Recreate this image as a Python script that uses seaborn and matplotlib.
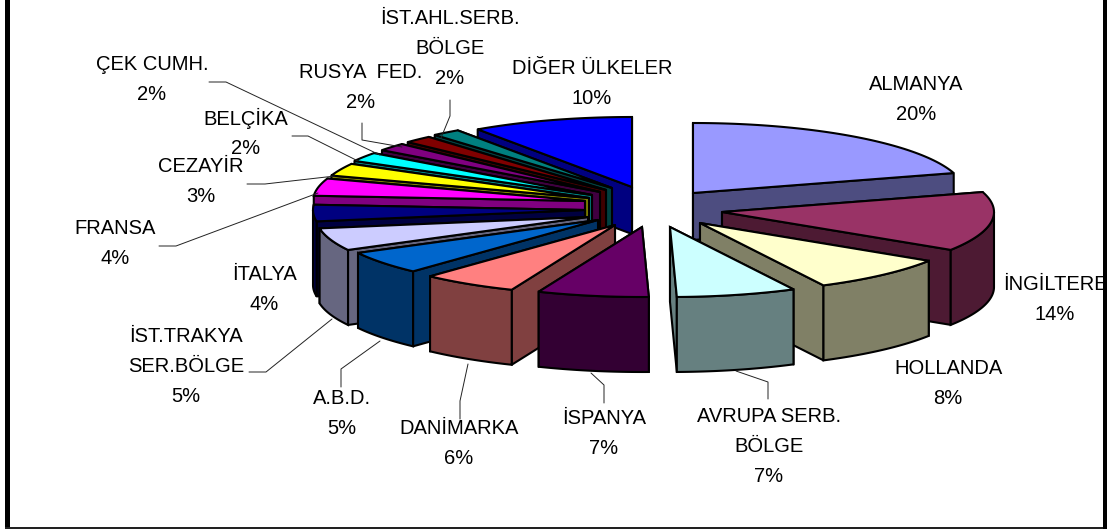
import numpy as np
import pandas as pd
import matplotlib
matplotlib.use("Agg")
import matplotlib.pyplot as plt
from matplotlib.patches import Rectangle
import seaborn as sns

# 1. Data, clockwise from 12 o'clock
names = ["ALMANYA", "İNGİLTERE", "HOLLANDA", "AVRUPA SERB.\nBÖLGE", "İSPANYA", "DANİMARKA",
         "A.B.D.", "İST.TRAKYA\nSER.BÖLGE", "İTALYA", "FRANSA", "CEZAYİR", "BELÇİKA",
         "ÇEK CUMH.", "RUSYA  FED.", "İST.AHL.SERB.\nBÖLGE", "DİĞER ÜLKELER"]
shares = [20.4, 13.7, 8.4, 7.1, 6.6, 5.7, 5.3, 5.2, 3.8, 4.0, 2.9, 2.1, 1.8, 1.7, 1.7, 9.6]

# 2. Style: Excel's default palette, and how far each slice is pulled from the middle
colors = ["#9999FF", "#993366", "#FFFFCC", "#CCFFFF", "#660066", "#FF8080", "#0066CC", "#CCCCFF",
          "#000080", "#FF00FF", "#FFFF00", "#00FFFF", "#800080", "#800000", "#008080", "#0000FF"]
pull_x = [93, 122, 100, 70, 42, 15, -2, -12, -15, -15, -11, -8, 0, 6, 12, 32]
pull_y = [-17, 2, 13, 17, 17, 15, 10, 7, 0, -9, -12, -15, -18, -20, -22, -23]
depths = [47, 75, 75, 75, 75, 75, 75, 75, 75, 75, 75, 75, 75, 75, 75, 47]
label_x = [916, 1055, 948, 769, 604, 459, 342, 186, 264, 115, 201, 246, 152, 361, 450, 592]
label_y = [84, 285, 368, 417, 419, 428, 398, 337, 275, 228, 167, 118, 64, 73, 18, 68]
leaders = [
    [(209, 82), (226, 82), (380, 155)], [(292, 136), (308, 136), (358, 161)],
    [(247, 184), (265, 184), (335, 176)], [(159, 246), (176, 246), (318, 193)],
    [(362, 123), (362, 140), (402, 147)], [(450, 100), (450, 116), (441, 138)],
    [(249, 372), (266, 372), (332, 319)], [(341, 387), (341, 369), (380, 341)],
    [(460, 419), (460, 401), (468, 364)], [(604, 403), (604, 385), (591, 373)],
    [(768, 399), (768, 382), (736, 371)],
]

center_x, center_y = 600, 210
radius_x, radius_y = 272, 70

sns.set_theme(style="white")
plt.rcParams['font.family'] = ['Liberation Sans', 'DejaVu Sans']

df = pd.DataFrame({"name": names, "share": shares, "pull_x": pull_x, "pull_y": pull_y, "depth": depths})
df["end"] = df["share"].cumsum() / df["share"].sum() * 2 * np.pi
df["start"] = df["end"].shift(1, fill_value=0.0)
df["mid"] = (df["start"] + df["end"]) / 2
palette = sns.color_palette(colors)

fig = plt.figure(figsize=(11.07, 5.29), dpi=100)
ax = fig.add_axes([0, 0, 1, 1])
ax.set_xlim(0, 1107)
ax.set_ylim(529, 0)
ax.axis("off")

# frame
ax.add_patch(Rectangle((5, 0), 5, 529, color="black", lw=0))
ax.add_patch(Rectangle((5, 526.5), 1102, 2, color="#222222", lw=0))
ax.add_patch(Rectangle((1103, 0), 4, 529, color="black", lw=0))


def arc(row, t0, t1):
    t = np.linspace(t0, t1, 60)
    return (center_x + row.pull_x + radius_x * np.sin(t),
            center_y + row.pull_y - radius_y * np.cos(t))


def face(row, t, color):
    ex, ey = arc(row, t, t)
    ex, ey = ex[0], ey[0]
    ox, oy = center_x + row.pull_x, center_y + row.pull_y
    ax.fill([ox, ex, ex, ox], [oy, ey, ey + row.depth, oy + row.depth],
            facecolor=color, edgecolor="black", lw=1.5, joinstyle="round")


# 3. Slices from back to front
for i in np.argsort(-np.cos(df["mid"].values)):
    row = df.iloc[i]
    dark = tuple(np.array(palette[i]) * 0.5)
    if row.mid < np.pi:
        face(row, row.start, dark)
        face(row, row.end, dark)
    else:
        face(row, row.end, dark)
        face(row, row.start, dark)
    a0, a1 = max(row.start, np.pi / 2), min(row.end, 3 * np.pi / 2)
    if a1 > a0:
        bx, by = arc(row, a0, a1)
        ax.fill(np.r_[bx, bx[::-1]], np.r_[by, by[::-1] + row.depth],
                facecolor=dark, edgecolor="black", lw=1.5)
    tx, ty = arc(row, row.start, row.end)
    ax.fill(np.r_[center_x + row.pull_x, tx], np.r_[center_y + row.pull_y, ty],
            facecolor=palette[i], edgecolor="black", lw=1.5)

# 4. Leader lines and labels
for pts in leaders:
    xs, ys = zip(*pts)
    ax.plot(xs, ys, color="#222222", lw=0.7)

for i, row in df.iterrows():
    lines = row["name"].split("\n") + [f"{row.share:.0f}%"]
    for k, line in enumerate(lines):
        ax.text(label_x[i], label_y[i] + 30 * k, line, fontsize=14.5, color="black",
                ha="center", va="center")

fig.savefig("out.png", dpi=100)
print("Saved: out.png")
